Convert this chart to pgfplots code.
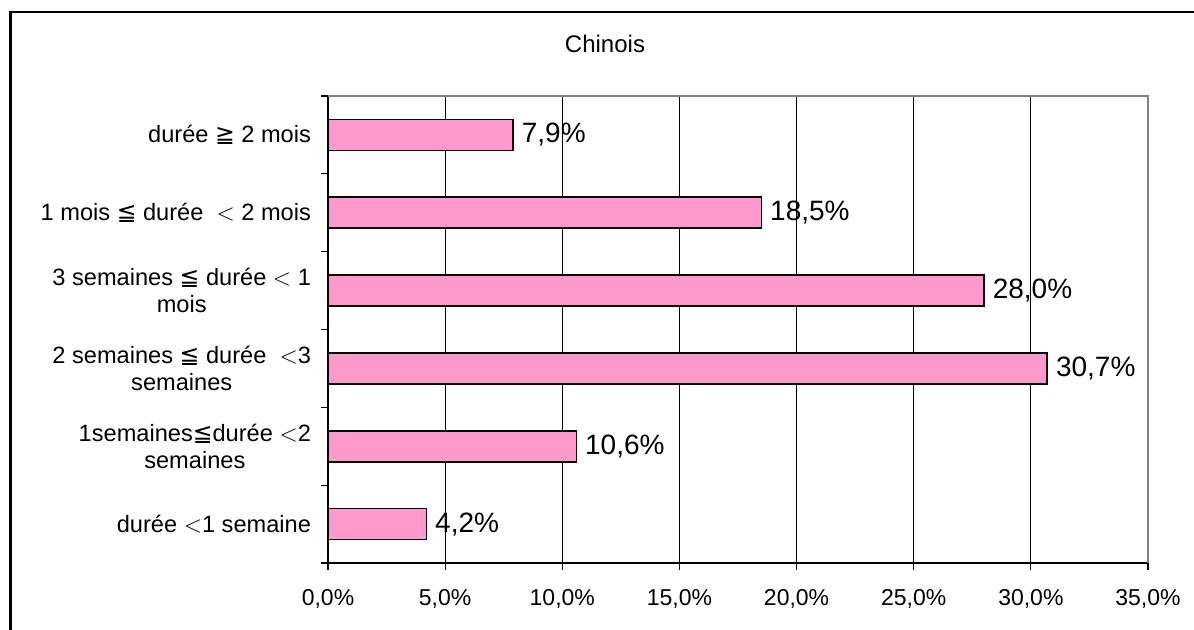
\documentclass[border=0pt]{standalone}
\usepackage{pgfplots}
\pgfplotsset{compat=1.18}
\usepackage{fontspec}
\setmainfont{Liberation Sans}
\newfontfamily\symfont{DejaVu Sans}
\newcommand\LEQ{{\symfont ≦}}
\newcommand\GEQ{{\symfont ≧}}
\definecolor{barpink}{RGB}{255,153,204}
\begin{document}
\begin{tikzpicture}
\useasboundingbox (0,0) rectangle (597pt,314.5pt);
\draw[line width=1.2pt] (5.2pt,-2pt) -- (5.2pt,308.5pt) -- (600pt,308.5pt);
\node[font=\fontsize{12}{14}\selectfont] at (302.5pt,292.5pt) {Chinois};
\begin{axis}[
  at={(164pt,33pt)}, anchor=south west,
  scale only axis, width=410pt, height=233.5pt,
  xbar, bar width=15.5pt,
  xmin=0, xmax=35, ymin=-0.5, ymax=5.5,
  xtick={0,5,...,35},
  xticklabels={{0,0\%},{5,0\%},{10,0\%},{15,0\%},{20,0\%},{25,0\%},{30,0\%},{35,0\%}},
  ytick={0,...,5},
  yticklabels={
    {durée $<$1 semaine},
    {1semaines\LEQ durée $<$2\\semaines},
    {2 semaines \LEQ\ durée \ $<$3\\semaines},
    {3 semaines \LEQ\ durée $<$ 1\\mois},
    {1 mois \LEQ\ durée \ $<$ 2 mois},
    {durée \GEQ\ 2 mois}},
  minor ytick={-0.5,0.5,...,5.5},
  tick align=outside, major tick length=3.5pt, minor tick length=3.5pt,
  major y tick style={draw=none},
  tick style={black, line width=0.6pt},
  axis x line*=bottom, axis y line*=left,
  axis line style={black, line width=0.8pt},
  xmajorgrids, major x grid style={black, line width=0.5pt},
  xticklabel style={font=\fontsize{11.5}{13}\selectfont, yshift=-6pt},
  yticklabel style={font=\fontsize{11.8}{13.8}\selectfont, align=center, xshift=-1.5pt},
  point meta=x,
  nodes near coords={\pgfmathprintnumber[assume math mode=true,fixed,zerofill,precision=1,use comma]{\pgfplotspointmeta}\%},
  every node near coord/.append style={font=\fontsize{14}{16}\selectfont, anchor=west, inner sep=1.5pt, xshift=2.5pt, black},
  clip=false,
]
\addplot[fill=barpink, draw=black, line width=0.8pt] coordinates {
  (4.2,0) (10.6,1) (30.7,2) (28.0,3) (18.5,4) (7.9,5)};
\draw[gray, line width=0.8pt] (rel axis cs:0,1) -- (rel axis cs:1,1) -- (rel axis cs:1,0);
\end{axis}
\end{tikzpicture}
\end{document}
